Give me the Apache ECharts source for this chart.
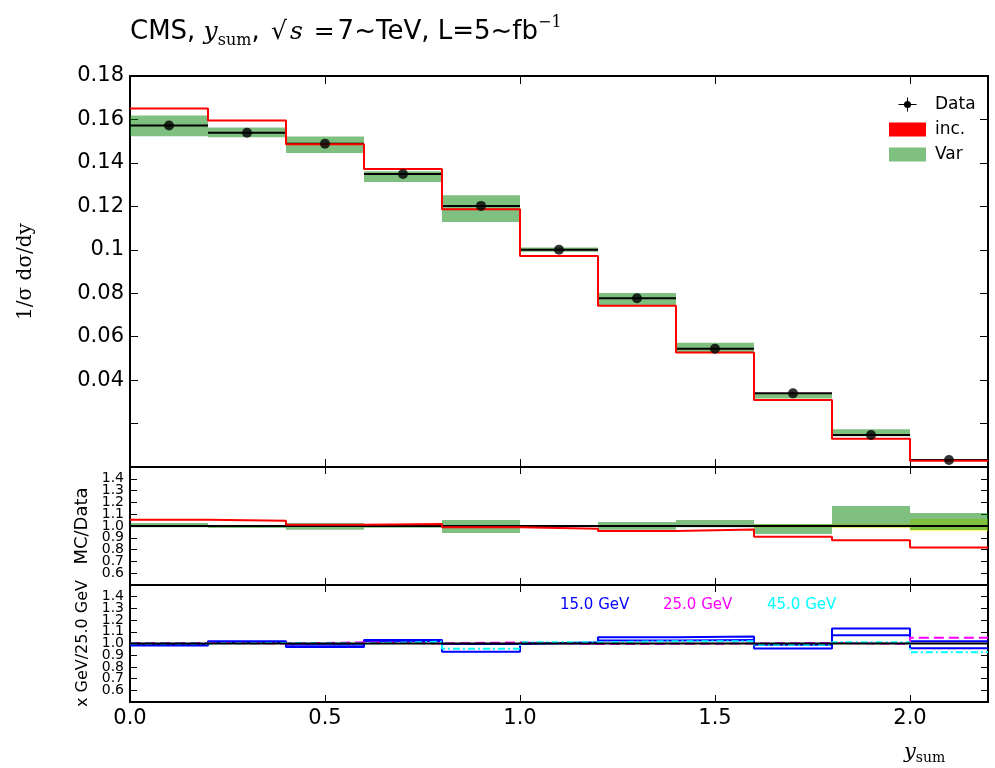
<!DOCTYPE html>
<html>
<head>
<meta charset="utf-8">
<script src="https://cdn.jsdelivr.net/npm/echarts@6/dist/echarts.min.js"></script>
<style>
  html, body { margin: 0; padding: 0; background: #fff; }
  #chart { width: 995px; height: 768px; }
</style>
</head>
<body>
<div id="chart"></div>
<script>
// bin edges of y_sum
var edges = [0.0, 0.2, 0.4, 0.6, 0.8, 1.0, 1.2, 1.4, 1.6, 1.8, 2.0, 2.2];

// main panel: 1/sigma dsigma/dy
var dataVals = [0.1572, 0.1539, 0.1488, 0.1349, 0.1202, 0.1000, 0.0777, 0.0544, 0.0339, 0.0147, 0.0032];
var incVals  = [0.1650, 0.1595, 0.1486, 0.1372, 0.1187, 0.0971, 0.0742, 0.0527, 0.0309, 0.0130, 0.0029];
var varLo    = [0.1523, 0.1518, 0.1445, 0.1312, 0.1128, 0.0991, 0.0743, 0.0526, 0.0315, 0.0142, 0.0029];
var varHi    = [0.1618, 0.1563, 0.1522, 0.1361, 0.1251, 0.1011, 0.0801, 0.0572, 0.0338, 0.0174, 0.0035];

// MC/Data panel
var incRatio   = [1.054, 1.045, 1.010, 1.017, 0.990, 0.977, 0.957, 0.970, 0.909, 0.880, 0.818];
var varRatioLo = [0.990, 0.983, 0.968, 0.985, 0.940, 0.995, 0.968, 0.990, 0.932, 0.990, 0.966];
var varRatioHi = [1.025, 1.000, 1.026, 1.017, 1.050, 1.005, 1.034, 1.050, 1.017, 1.170, 1.110];
var dataErrLo  = [0.998, 0.998, 0.998, 0.998, 0.998, 0.998, 0.998, 0.998, 0.985, 0.980, 0.955];
var dataErrHi  = [1.002, 1.002, 1.002, 1.002, 1.002, 1.002, 1.002, 1.002, 1.015, 1.020, 1.060];

// x GeV / 25.0 GeV panel
var blueHi  = [0.990, 1.020, 0.990, 1.030, 0.995, 1.010, 1.054, 1.060, 0.990, 1.128, 1.020];
var blueLo  = [0.983, 1.012, 0.970, 1.022, 0.930, 1.003, 1.026, 1.030, 0.957, 1.071, 0.960];
var magenta = [1.005, 1.000, 1.010, 1.000, 1.010, 0.995, 0.997, 1.000, 1.005, 0.997, 1.049];
var cyan    = [1.000, 1.005, 1.000, 1.015, 0.955, 1.010, 1.020, 1.020, 0.990, 1.010, 0.926];

var chart = echarts.init(document.getElementById('chart'));

// step histogram points: left edge of every bin + closing right edge
function steps(vals) {
  var pts = [];
  for (var i = 0; i < vals.length; i++) pts.push([edges[i], vals[i]]);
  pts.push([edges[edges.length - 1], vals[vals.length - 1]]);
  return pts;
}
function bands(lo, hi) {
  var out = [];
  for (var i = 0; i < lo.length; i++) out.push([edges[i], edges[i + 1], lo[i], hi[i]]);
  return out;
}
function bandSeries(name, lo, hi, color, ax) {
  return {
    name: name, type: 'custom', xAxisIndex: ax, yAxisIndex: ax,
    data: bands(lo, hi),
    renderItem: function (params, api) {
      var p0 = api.coord([api.value(0), api.value(3)]);
      var p1 = api.coord([api.value(1), api.value(2)]);
      return { type: 'rect', shape: { x: p0[0], y: p0[1], width: p1[0] - p0[0], height: Math.max(p1[1] - p0[1], 1) },
               style: { fill: color } };
    },
    itemStyle: { color: color }
  };
}
function stepSeries(name, vals, color, ax, type, z) {
  return {
    name: name, type: 'line', step: 'end', xAxisIndex: ax, yAxisIndex: ax,
    data: steps(vals), symbol: 'none', z: z || 3,
    lineStyle: { color: color, width: 2, type: type || 'solid' },
    itemStyle: { color: color }
  };
}

var grids = [
  { left: 130, right: 7, top: 76, height: 391 },
  { left: 130, right: 7, top: 467, height: 118 },
  { left: 130, right: 7, top: 585, height: 117 }
];

var xAxes = [], yAxes = [];
var font = 'DejaVu Sans';
for (var g = 0; g < 3; g++) {
  var tl = g == 0 ? 8 : 7;
  ['bottom', 'top'].forEach(function (pos) {
    xAxes.push({
      type: 'value', gridIndex: g, position: pos, min: 0, max: 2.2, interval: 0.5,
      axisLine: { show: true, onZero: false, lineStyle: { color: '#000', width: 2 } },
      axisTick: { show: true, inside: true, length: tl, lineStyle: { color: '#000', width: 1 } },
      axisLabel: { show: g == 2 && pos == 'bottom', showMaxLabel: false, fontFamily: font, fontSize: 21, color: '#000', margin: 6,
                   formatter: function (v) { return v.toFixed(1); } },
      splitLine: { show: false }
    });
  });
  ['left', 'right'].forEach(function (pos) {
    var top = g == 0;
    var ax = {
      type: 'value', gridIndex: g, position: pos,
      min: top ? 0 : 0.5, max: top ? 0.18 : 1.5, interval: top ? 0.02 : 0.1,
      axisLine: { show: true, onZero: false, lineStyle: { color: '#000', width: 2 } },
      axisTick: { show: true, inside: true, length: tl, lineStyle: { color: '#000', width: 1 } },
      axisLabel: {
        show: pos == 'left', fontFamily: font, color: '#000',
        fontSize: top ? 21 : 14, margin: top ? 6 : 6,
        formatter: top
          ? function (v) { return v < 0.03 ? '' : String(+v.toFixed(2)); }
          : function (v) { return (v < 0.55 || v > 1.45) ? '' : v.toFixed(1); }
      },
      splitLine: { show: false }
    };
    if (pos == 'left') {
      ax.nameLocation = 'middle';
      if (g == 0) {
        ax.name = '1/σ dσ/dy';
        ax.nameGap = 94;
        ax.nameTextStyle = { fontFamily: 'DejaVu Serif', fontSize: 20, color: '#000' };
      } else if (g == 1) {
        ax.name = 'MC/Data';
        ax.nameGap = 33;
        ax.nameTextStyle = { fontFamily: font, fontSize: 18, color: '#000' };
      } else {
        ax.name = 'x GeV/25.0 GeV';
        ax.nameGap = 33;
        ax.nameTextStyle = { fontFamily: font, fontSize: 16, color: '#000' };
      }
    }
    yAxes.push(ax);
  });
}

var centers = [];
for (var i = 0; i < dataVals.length; i++) centers.push([(edges[i] + edges[i + 1]) / 2, dataVals[i]]);

var green = 'rgba(0,128,0,0.5)';

var series = [
  bandSeries('Var', varLo, varHi, green, 0),
  {
    name: 'Data', type: 'custom', xAxisIndex: 0, yAxisIndex: 0, z: 3,
    data: bands(dataVals, dataVals),
    renderItem: function (params, api) {
      var p0 = api.coord([api.value(0), api.value(2)]);
      var p1 = api.coord([api.value(1), api.value(2)]);
      return { type: 'line', shape: { x1: p0[0], y1: p0[1], x2: p1[0], y2: p1[1] },
               style: { stroke: '#000', lineWidth: 2 } };
    },
    itemStyle: { color: '#000' }
  },
  stepSeries('inc.', incVals, '#ff0000', 0, 'solid', 4),
  { name: 'Data', type: 'scatter', xAxisIndex: 0, yAxisIndex: 0, z: 5, data: centers,
    symbol: 'circle', symbolSize: 10, itemStyle: { color: '#000' } },

  bandSeries('', dataErrLo, dataErrHi, 'rgba(255,255,0,0.5)', 2),
  bandSeries('', varRatioLo, varRatioHi, green, 2),
  { type: 'line', xAxisIndex: 2, yAxisIndex: 2, data: [[0, 1], [2.2, 1]], symbol: 'none', z: 3,
    lineStyle: { color: '#000', width: 2 } },
  stepSeries('', incRatio, '#ff0000', 2, 'solid', 4),

  stepSeries('', blueHi, '#0000ff', 4),
  stepSeries('', blueLo, '#0000ff', 4),
  stepSeries('', magenta, '#ff00ff', 4, [10, 5]),
  stepSeries('', cyan, '#00ffff', 4, [7, 3, 2, 3]),
  { type: 'line', xAxisIndex: 4, yAxisIndex: 4, data: [[0, 1], [2.2, 1]], symbol: 'none', z: 5,
    lineStyle: { color: '#000', width: 2 } }
];

var option = {
  animation: false,
  backgroundColor: '#fff',
  grid: grids,
  xAxis: xAxes,
  yAxis: yAxes,
  legend: {
    orient: 'vertical', left: 884, top: 91, itemGap: 8, itemWidth: 37, itemHeight: 14,
    selectedMode: false,
    textStyle: { fontFamily: font, fontSize: 17, color: '#000', padding: [0, 0, 0, 4] },
    data: [
      { name: 'Data', icon: 'path://M17.5,0H18.5V14H17.5Z M9,6.5H27V7.5H9Z M21.5,7A3.5,3.5 0 1 1 14.5,7A3.5,3.5 0 1 1 21.5,7Z',
        itemStyle: { color: '#000' } },
      { name: 'inc.', icon: 'rect', itemStyle: { color: '#ff0000' } },
      { name: 'Var', icon: 'rect', itemStyle: { color: green } }
    ]
  },
  graphic: [
    { type: 'text', left: 130, top: 15, style: {
        text: '{n|CMS, }{i|y}{sub|sum}{n|, }{m|√}{i|s}{m| =}{n|7~TeV, L=5~fb}{sup|−1}',
        rich: {
          n: { fontFamily: font, fontSize: 26, color: '#000', lineHeight: 34 },
          i: { fontFamily: 'DejaVu Serif', fontStyle: 'italic', fontSize: 25, color: '#000', lineHeight: 34 },
          m: { fontFamily: 'DejaVu Serif', fontSize: 25, color: '#000', lineHeight: 34, padding: [0, 3, 0, 3] },
          sub: { fontFamily: 'DejaVu Serif', fontSize: 16, color: '#000', lineHeight: 14, verticalAlign: 'bottom' },
          sup: { fontFamily: 'DejaVu Serif', fontSize: 16, color: '#000', lineHeight: 14, verticalAlign: 'top' }
        }
    } },
    { type: 'text', left: 904, top: 742, style: {
        text: '{i|y}{sub|sum}',
        rich: {
          i: { fontFamily: 'DejaVu Serif', fontStyle: 'italic', fontSize: 21, color: '#000', lineHeight: 26 },
          sub: { fontFamily: 'DejaVu Serif', fontSize: 14, color: '#000', lineHeight: 12, verticalAlign: 'bottom' }
        }
    } },
    { type: 'text', left: 560, top: 598, style: { text: '15.0 GeV', fill: '#0000ff', font: '15px "DejaVu Sans"' } },
    { type: 'text', left: 663, top: 598, style: { text: '25.0 GeV', fill: '#ff00ff', font: '15px "DejaVu Sans"' } },
    { type: 'text', left: 767, top: 598, style: { text: '45.0 GeV', fill: '#00ffff', font: '15px "DejaVu Sans"' } }
  ],
  series: series
};

chart.setOption(option);

window.addEventListener('resize', function () {
  chart.resize();
});
</script>
</body>
</html>
